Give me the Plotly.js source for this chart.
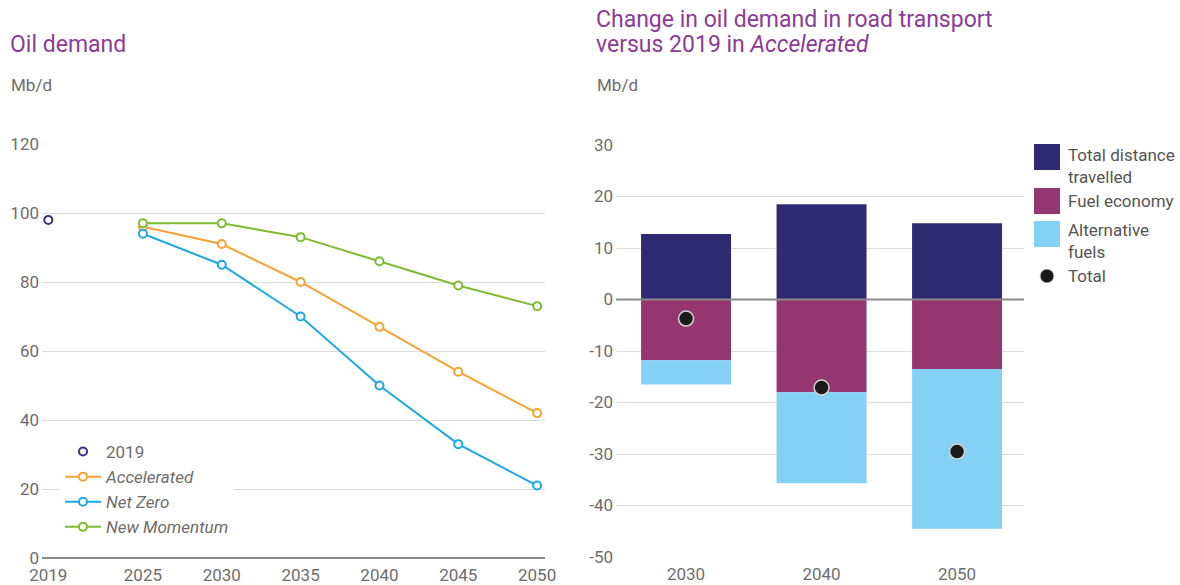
<!DOCTYPE html>
<html><head><meta charset="utf-8">
<script src="https://cdn.plot.ly/plotly-3.0.1.min.js"></script>
<style>body{margin:0;background:#fff}#chart{width:1180px;height:585px}</style>
</head><body><div id="chart"></div>
<script>
// ---- data: left chart (Mb/d) ----
const years = [2025, 2030, 2035, 2040, 2045, 2050];
const year2019 = [2019];
const demand2019 = [98];
const accelerated = [96, 91, 80, 67, 54, 42];
const netZero = [94, 85, 70, 50, 33, 21];
const newMomentum = [97, 97, 93, 86, 79, 73];
const leftTicks = [2019, 2025, 2030, 2035, 2040, 2045, 2050];
const leftYTicks = [0, 20, 40, 60, 80, 100, 120];

// ---- data: right chart (change vs 2019, Mb/d) ----
const barYears = ['2030', '2040', '2050'];
const distance = [12.7, 18.5, 14.8];
const fuelEconomy = [-11.8, -18.0, -13.5];
const altFuels = [-4.7, -17.7, -31.0];
const total = [-3.7, -17.1, -29.5];
const rightYTicks = [-50, -40, -30, -20, -10, 0, 10, 20, 30];
const legendLabels = ['Total distance<br>travelled', 'Fuel economy', 'Alternative<br>fuels', 'Total'];

const W = 1180, H = 585;
const px = x => x / W;
const py = y => (H - y) / H;

const FONT = 'Roboto, "Liberation Sans", Arial, sans-serif';
const TICK = '#6d6d6d';
const GRID = '#dcdcdc';
const PURPLE = '#8c3b97';
const C_ACC = '#f7a233', C_NZ = '#1ca8e3', C_NM = '#7dbb2f', C_19 = '#3b2f86';
const C_DIST = '#302a72', C_FUEL = '#943770', C_ALT = '#85d0f5';

function lineTrace(name, y, color) {
  return {
    type: 'scatter', mode: 'lines+markers', name: name, x: years, y: y,
    xaxis: 'x', yaxis: 'y',
    line: {color: color, width: 2},
    marker: {symbol: 'circle', size: 8, color: '#ffffff', line: {color: color, width: 2}}
  };
}

const traces = [
  {type: 'scatter', mode: 'markers', name: '2019', x: year2019, y: demand2019,
   xaxis: 'x', yaxis: 'y',
   marker: {symbol: 'circle', size: 8, color: '#ffffff', line: {color: C_19, width: 2}}},
  lineTrace('<i>Accelerated</i>', accelerated, C_ACC),
  lineTrace('<i>Net Zero</i>', netZero, C_NZ),
  lineTrace('<i>New Momentum</i>', newMomentum, C_NM),
  {type: 'bar', name: 'Total distance travelled', x: barYears, y: distance, xaxis: 'x2', yaxis: 'y2',
   marker: {color: C_DIST}, showlegend: false, hoverinfo: 'y'},
  {type: 'bar', name: 'Fuel economy', x: barYears, y: fuelEconomy, xaxis: 'x2', yaxis: 'y2',
   marker: {color: C_FUEL}, showlegend: false, hoverinfo: 'y'},
  {type: 'bar', name: 'Alternative fuels', x: barYears, y: altFuels, xaxis: 'x2', yaxis: 'y2',
   marker: {color: C_ALT}, showlegend: false, hoverinfo: 'y'},
  {type: 'scatter', mode: 'markers', name: 'Total', x: barYears, y: total, xaxis: 'x2', yaxis: 'y2',
   marker: {symbol: 'circle', size: 15, color: '#1a1a1a', line: {color: '#d4d4d4', width: 1.5}},
   showlegend: false}
];

const ann = (text, x, y, size, color, extra) => Object.assign({
  text: text, xref: 'paper', yref: 'paper', x: px(x), y: py(y),
  xanchor: 'left', yanchor: 'middle', showarrow: false, align: 'left',
  font: {family: FONT, size: size, color: color}
}, extra || {});

const legendRows = [
  {y0: 144, y1: 170, ty: 166, color: C_DIST},
  {y0: 188, y1: 214, ty: 201, color: C_FUEL},
  {y0: 221, y1: 247, ty: 241, color: C_ALT}
];

const shapes = [
  {type: 'line', xref: 'x2 domain', yref: 'y2', x0: 0, x1: 1, y0: 0, y1: 0,
   line: {color: '#8a8a8a', width: 2}, layer: 'above'}
];
legendRows.forEach(r => shapes.push({
  type: 'rect', xref: 'paper', yref: 'paper', x0: px(1034), x1: px(1060), y0: py(r.y1), y1: py(r.y0),
  fillcolor: r.color, line: {width: 0}
}));
shapes.push({type: 'circle', xref: 'paper', yref: 'paper', x0: px(1040), x1: px(1054), y0: py(283), y1: py(269),
  fillcolor: '#1a1a1a', line: {color: '#d4d4d4', width: 1}});

const annotations = [
  ann('Oil demand', 8, 45, 23, PURPLE),
  ann('Mb/d', 9, 85, 17, TICK),
  ann('Change in oil demand in road transport', 594, 20, 23, PURPLE),
  ann('versus 2019 in <i>Accelerated</i>', 594, 45, 23, PURPLE),
  ann('Mb/d', 595, 85, 17, TICK)
];
legendRows.forEach((r, i) => annotations.push(ann(legendLabels[i], 1066, r.ty, 17, '#555555')));
annotations.push(ann(legendLabels[3], 1066, 276, 17, '#555555'));

const tickFont = {family: FONT, size: 17, color: TICK};

const layout = {
  width: W, height: H,
  margin: {l: 0, r: 0, t: 0, b: 0},
  paper_bgcolor: '#ffffff', plot_bgcolor: '#ffffff',
  font: {family: FONT, size: 17, color: TICK},
  showlegend: true,
  hovermode: 'closest',
  barmode: 'relative',
  bargap: 0.336,
  xaxis: {
    domain: [px(42), px(545)], range: [2018.6, 2050.5], anchor: 'y',
    tickmode: 'array', tickvals: leftTicks, ticktext: leftTicks.map(String),
    showgrid: false, zeroline: false, showline: false, ticks: '',
    ticklabelstandoff: 5, tickfont: tickFont
  },
  yaxis: {
    domain: [py(558), py(144)], range: [0, 120], anchor: 'x',
    tickmode: 'array', tickvals: leftYTicks, ticktext: leftYTicks.map(String),
    showgrid: true, gridcolor: GRID, gridwidth: 1,
    zeroline: true, zerolinecolor: '#8a8a8a', zerolinewidth: 2,
    showline: false, ticks: '', ticklabelstandoff: 2, tickfont: tickFont
  },
  xaxis2: {
    domain: [px(616), px(1024)], range: [-0.517, 2.494], anchor: 'y2', type: 'category',
    showgrid: false, zeroline: false, showline: false, ticks: '',
    ticklabelstandoff: 5, tickfont: tickFont
  },
  yaxis2: {
    domain: [py(557), py(145)], range: [-50, 30], anchor: 'x2',
    tickmode: 'array', tickvals: rightYTicks, ticktext: rightYTicks.map(String),
    showgrid: true, gridcolor: GRID, gridwidth: 1,
    zeroline: false, showline: false, ticks: '', ticklabelstandoff: 2, tickfont: tickFont
  },
  legend: {
    x: px(60), y: py(434), xanchor: 'left', yanchor: 'top',
    bgcolor: '#ffffff', borderwidth: 0,
    font: {family: FONT, size: 17, color: TICK},
    tracegroupgap: 0, itemwidth: 36
  },
  shapes: shapes,
  annotations: annotations
};

Plotly.newPlot('chart', traces, layout, {displayModeBar: false});
</script>
</body></html>
